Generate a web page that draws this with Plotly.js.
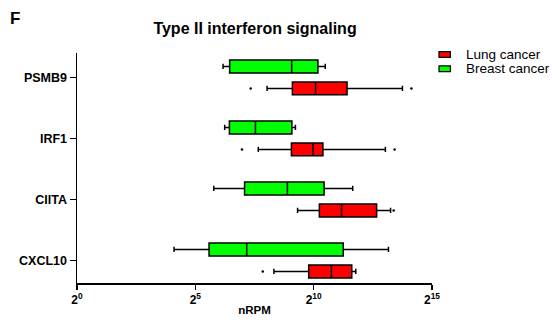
<!DOCTYPE html>
<html>
<head>
<meta charset="utf-8">
<script src="https://cdn.plot.ly/plotly-3.0.1.min.js"></script>
<style>html,body{margin:0;padding:0;background:#fff;}#chart{width:552px;height:320px;}</style>
</head>
<body>
<div id="chart"></div>
<script>
// values are log2(nRPM)
const categories = ['PSMB9', 'IRF1', 'CIITA', 'CXCL10'];

const lungLower  = [8.03, 7.66, 9.32, 8.32];
const lungQ1     = [9.10, 9.06, 10.24, 9.79];
const lungMedian = [10.08, 9.97, 11.18, 10.75];
const lungQ3     = [11.41, 10.39, 12.66, 11.61];
const lungUpper  = [13.75, 13.03, 13.25, 11.78];
const lungOutliers = [[7.34, 14.13], [6.97, 13.42], [13.38], [7.85]];

const breastLower  = [6.17, 6.24, 5.78, 4.10];
const breastQ1     = [6.45, 6.44, 7.08, 5.58];
const breastMedian = [9.07, 7.54, 8.89, 7.17];
const breastQ3     = [10.18, 9.08, 10.44, 11.25];
const breastUpper  = [10.49, 9.23, 11.65, 13.16];

const tickVals = [0, 5, 10, 15];
const tickText = ['2<sup>0</sup>', '2<sup>5</sup>', '2<sup>10</sup>', '2<sup>15</sup>'];

const FONT = 'Arial, "Liberation Sans", sans-serif';

function boxTrace(name, fill, lf, q1, med, q3, uf, pts) {
  const t = {
    type: 'box', orientation: 'h', name: name,
    y: categories, q1: q1, median: med, q3: q3,
    lowerfence: lf, upperfence: uf,
    fillcolor: fill,
    line: {color: '#000', width: 1.5},
    whiskerwidth: 0.4,
    boxpoints: pts ? 'all' : false,
    jitter: 0, pointpos: 0,
    marker: {color: '#000', size: 2.5},
    showlegend: false,
    hoverinfo: 'skip'
  };
  if (pts) t.x = pts;
  return t;
}

const data = [
  boxTrace('Lung cancer', '#ff0000', lungLower, lungQ1, lungMedian, lungQ3, lungUpper, lungOutliers),
  boxTrace('Breast cancer', '#00ff00', breastLower, breastQ1, breastMedian, breastQ3, breastUpper, null)
];

const legendItems = [
  {name: 'Lung cancer', color: '#ff0000', y0: 0.9813, y1: 1.0056, ty: 0.9935},
  {name: 'Breast cancer', color: '#00ff00', y0: 0.9188, y1: 0.9436, ty: 0.9310}
];

const layout = {
  width: 552, height: 320,
  margin: {l: 77, r: 120, t: 53, b: 37},
  paper_bgcolor: '#fff', plot_bgcolor: '#fff',
  font: {family: FONT, color: '#000'},
  boxmode: 'group', boxgap: 0.28, boxgroupgap: 0.41,
  title: {
    text: 'Type II interferon signaling',
    font: {family: FONT, size: 16, weight: 'bold', color: '#000'},
    x: 0.462, xanchor: 'center', y: 0.9125, yanchor: 'middle'
  },
  xaxis: {
    range: [0, 15], tickmode: 'array', tickvals: tickVals, ticktext: tickText,
    showline: true, linecolor: '#000', linewidth: 1.5,
    ticks: 'outside', ticklen: 5, tickwidth: 1.5, tickcolor: '#000',
    showgrid: false, zeroline: false,
    tickfont: {family: FONT, size: 12, weight: 'bold', color: '#000'},
    title: {text: 'nRPM', font: {family: FONT, size: 11.5, weight: 'bold', color: '#000'}, standoff: 0}
  },
  yaxis: {
    type: 'category', categoryorder: 'array', categoryarray: categories.slice().reverse(),
    range: [-0.37, 3.40],
    showline: true, linecolor: '#000', linewidth: 1.5,
    ticks: 'outside', ticklen: 6, tickwidth: 1.5, tickcolor: '#000',
    showgrid: false, zeroline: false,
    tickfont: {family: FONT, size: 12.5, weight: 'bold', color: '#000'}
  },
  shapes: legendItems.map(it => ({
    type: 'rect', xref: 'paper', yref: 'paper',
    x0: 1.0197, x1: 1.0518, y0: it.y0, y1: it.y1,
    fillcolor: it.color, line: {color: '#000', width: 1.2}
  })),
  annotations: legendItems.map(it => ({
    xref: 'paper', yref: 'paper', x: 1.0907, y: it.ty,
    xanchor: 'left', yanchor: 'middle', showarrow: false,
    text: it.name, font: {family: FONT, size: 13.5, color: '#000'}
  })).concat([{
    xref: 'paper', yref: 'paper', x: -0.1758, y: 1.150,
    xanchor: 'center', yanchor: 'middle', showarrow: false,
    text: '<b>F</b>', font: {family: FONT, size: 17, color: '#000'}
  }])
};

Plotly.newPlot('chart', data, layout, {staticPlot: true, displayModeBar: false});
</script>
</body>
</html>
